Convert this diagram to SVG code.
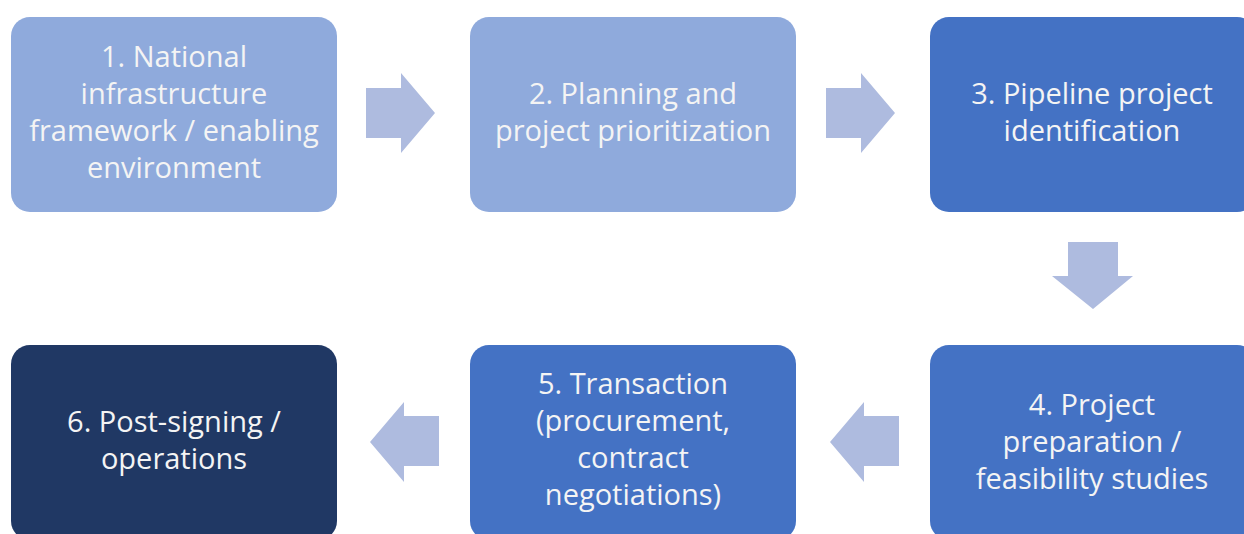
<svg xmlns="http://www.w3.org/2000/svg" width="1244" height="534" viewBox="0 0 1244 534">
  <defs>
    <style>
      .box { stroke: none; }
      .light { fill: #8FAADC; }
      .mid { fill: #4472C4; }
      .dark { fill: #203864; }
      .arrow { fill: #AEBBDF; }
      .label { font-family: "Open Sans", Lato, "Liberation Sans", sans-serif; font-size: 29px; fill: #F4F4F4; text-anchor: middle; }
    </style>
  </defs>
  <rect width="1244" height="534" fill="#FFFFFF"/>

  <g id="node-1">
    <rect class="box light" x="11" y="17" width="326" height="195" rx="19"/>
    <text class="label" x="174" y="67">1. National</text>
    <text class="label" x="174" y="104">infrastructure</text>
    <text class="label" x="174" y="141">framework / enabling</text>
    <text class="label" x="174" y="178">environment</text>
  </g>

  <g id="node-2">
    <rect class="box light" x="470" y="17" width="326" height="195" rx="19"/>
    <text class="label" x="633" y="104">2. Planning and</text>
    <text class="label" x="633" y="141">project prioritization</text>
  </g>

  <g id="node-3">
    <rect class="box mid" x="930" y="17" width="326" height="195" rx="19"/>
    <text class="label" x="1092" y="104">3. Pipeline project</text>
    <text class="label" x="1092" y="141">identification</text>
  </g>

  <g id="node-4">
    <rect class="box mid" x="930" y="345" width="326" height="195" rx="19"/>
    <text class="label" x="1092" y="415">4. Project</text>
    <text class="label" x="1092" y="452">preparation /</text>
    <text class="label" x="1092" y="489">feasibility studies</text>
  </g>

  <g id="node-5">
    <rect class="box mid" x="470" y="345" width="326" height="195" rx="19"/>
    <text class="label" x="633" y="394">5. Transaction</text>
    <text class="label" x="633" y="431">(procurement,</text>
    <text class="label" x="633" y="468">contract</text>
    <text class="label" x="633" y="505">negotiations)</text>
  </g>

  <g id="node-6">
    <rect class="box dark" x="11" y="345" width="326" height="195" rx="19"/>
    <text class="label" x="174" y="432">6. Post-signing /</text>
    <text class="label" x="174" y="469">operations</text>
  </g>

  <g id="connectors">
    <!-- 1 → 2 -->
    <polygon class="arrow" points="366,88 401,88 401,73 435,113 401,153 401,138 366,138"/>
    <!-- 2 → 3 -->
    <polygon class="arrow" points="826,88 861,88 861,73 895,113 861,153 861,138 826,138"/>
    <!-- 3 ↓ 4 -->
    <polygon class="arrow" points="1068,242 1118,242 1118,276 1133,276 1093,309 1052,276 1068,276"/>
    <!-- 4 → 5 (leftward) -->
    <polygon class="arrow" points="899,416 864,416 864,402 830,442 864,482 864,466 899,466"/>
    <!-- 5 → 6 (leftward) -->
    <polygon class="arrow" points="439,416 404,416 404,402 370,442 404,482 404,466 439,466"/>
  </g>
</svg>
